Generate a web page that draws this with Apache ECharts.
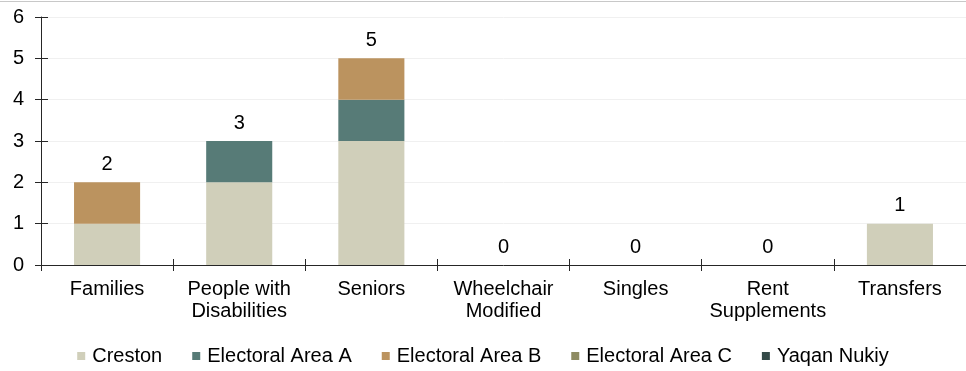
<!DOCTYPE html>
<html>
<head>
<meta charset="utf-8">
<script src="https://cdn.jsdelivr.net/npm/echarts@6/dist/echarts.min.js"></script>
<style>
  html, body { margin: 0; padding: 0; background: #fff; }
  #chart { width: 966px; height: 371px; }
</style>
</head>
<body>
<div id="chart"></div>
<script>
// Housing applications by category and area
const categories = ['Families', 'People with\nDisabilities', 'Seniors', 'Wheelchair\nModified', 'Singles', 'Rent\nSupplements', 'Transfers'];
const creston    = [1, 2, 3, 0, 0, 0, 1];
const areaA      = [0, 1, 1, 0, 0, 0, 0];
const areaB      = [1, 0, 1, 0, 0, 0, 0];
const areaC      = [0, 0, 0, 0, 0, 0, 0];
const yaqanNukiy = [0, 0, 0, 0, 0, 0, 0];
const yTicks     = [0, 1, 2, 3, 4, 5, 6];

const seriesDefs = [
  { name: 'Creston',           data: creston,    color: '#d0cfba' },
  { name: 'Electoral Area A',  data: areaA,      color: '#577b77' },
  { name: 'Electoral Area B',  data: areaB,      color: '#bb935f' },
  { name: 'Electoral Area C',  data: areaC,      color: '#8e8b62' },
  { name: 'Yaqan Nukiy',       data: yaqanNukiy, color: '#344a48' }
];

// Column totals shown above each stack
const totals = categories.map((_, i) => seriesDefs.reduce((s, d) => s + d.data[i], 0));

const font = 'Liberation Sans, Arial, sans-serif';
const fontSize = 20;
const axisColor = '#262626';

const chart = echarts.init(document.getElementById('chart'), null, { renderer: 'canvas' });

const series = seriesDefs.map(d => ({
  name: d.name,
  type: 'bar',
  stack: 'areas',
  barWidth: '50%',
  data: d.data,
  itemStyle: { color: d.color },
  emphasis: { disabled: true }
}));

series.push({
  name: 'total',
  type: 'bar',
  stack: 'total',
  barWidth: '50%',
  barGap: '-100%',
  data: totals,
  itemStyle: { color: 'rgba(0,0,0,0)' },
  silent: true,
  z: 5,
  label: {
    show: true,
    position: 'top',
    distance: 8,
    color: '#000',
    fontFamily: font,
    fontSize: fontSize
  }
});

chart.setOption({
  animation: false,
  grid: { left: 41, right: -5, top: 17, bottom: 106 },
  graphic: [{
    type: 'line',
    shape: { x1: 0, y1: 1.5, x2: 966, y2: 1.5 },
    style: { stroke: '#c8c8c8', lineWidth: 1 },
    silent: true
  }],
  legend: {
    data: seriesDefs.map(d => d.name),
    left: 'center',
    bottom: 0,
    itemWidth: 8,
    itemHeight: 8,
    itemGap: 30,
    icon: 'rect',
    textStyle: { fontFamily: font, fontSize: fontSize, color: '#000', padding: [0, 0, 0, 2] }
  },
  xAxis: [{
    type: 'category',
    position: 'bottom',
    data: categories,
    axisLine: { show: true, lineStyle: { color: axisColor, width: 1 } },
    axisTick: { show: true, length: 6, lineStyle: { color: axisColor } },
    axisLabel: {
      fontFamily: font, fontSize: fontSize, color: '#000', lineHeight: 22,
      margin: 13, interval: 0
    }
  }, {
    type: 'category',
    position: 'bottom',
    data: categories,
    axisLine: { show: false },
    axisTick: { show: true, inside: true, length: 6, lineStyle: { color: axisColor } },
    axisLabel: { show: false }
  }],
  yAxis: [{
    type: 'value',
    min: yTicks[0],
    max: yTicks[yTicks.length - 1],
    interval: 1,
    axisLine: { show: true, lineStyle: { color: axisColor, width: 1 } },
    axisTick: { show: true, length: 6, lineStyle: { color: axisColor } },
    axisLabel: { fontFamily: font, fontSize: fontSize, color: '#000', margin: 17 },
    splitLine: { show: true, lineStyle: { color: '#f0f0f0', width: 1 } }
  }, {
    type: 'value',
    position: 'left',
    min: yTicks[0],
    max: yTicks[yTicks.length - 1],
    interval: 1,
    axisLine: { show: false },
    axisTick: { show: true, inside: true, length: 7, lineStyle: { color: axisColor } },
    axisLabel: { show: false },
    splitLine: { show: false }
  }],
  series: series
});
</script>
</body>
</html>
